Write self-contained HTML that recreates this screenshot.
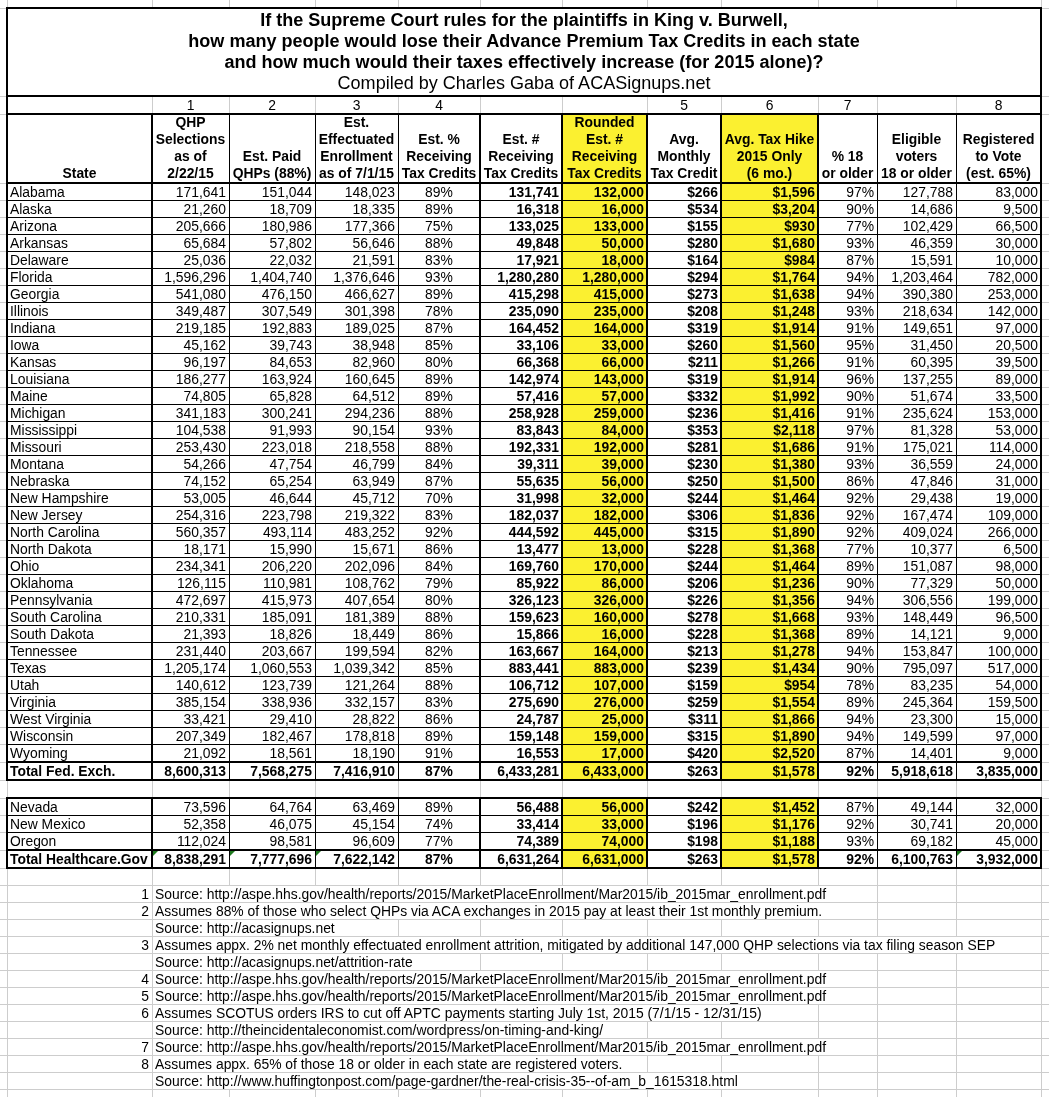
<!DOCTYPE html>
<html><head><meta charset="utf-8"><title>King v. Burwell APTC impact by state</title><style>
*{margin:0;padding:0}
html,body{width:1049px;height:1097px;overflow:hidden;background:#fff}
body{position:relative;font-family:"Liberation Sans",Arial,sans-serif;font-size:13.89px;color:#000}
i{position:absolute;display:block}
.t{position:absolute;white-space:nowrap;line-height:16px}
.b{font-weight:bold}
.tl{position:absolute;left:0;top:0;width:1049px;height:1097px;will-change:transform}
.ti{font-size:18.05px}
.gt{position:absolute;width:0;height:0;border-top:5px solid #1f7a1f;border-right:5px solid transparent}
</style></head>
<body>
<i style="left:7px;top:0px;width:1px;height:1097px;background:#cdcdcd"></i><i style="left:152px;top:0px;width:1px;height:1097px;background:#cdcdcd"></i><i style="left:229px;top:0px;width:1px;height:1097px;background:#cdcdcd"></i><i style="left:315px;top:0px;width:1px;height:1097px;background:#cdcdcd"></i><i style="left:398px;top:0px;width:1px;height:1097px;background:#cdcdcd"></i><i style="left:480px;top:0px;width:1px;height:1097px;background:#cdcdcd"></i><i style="left:562px;top:0px;width:1px;height:1097px;background:#cdcdcd"></i><i style="left:647px;top:0px;width:1px;height:1097px;background:#cdcdcd"></i><i style="left:721px;top:0px;width:1px;height:1097px;background:#cdcdcd"></i><i style="left:818px;top:0px;width:1px;height:1097px;background:#cdcdcd"></i><i style="left:877px;top:0px;width:1px;height:1097px;background:#cdcdcd"></i><i style="left:956px;top:0px;width:1px;height:1097px;background:#cdcdcd"></i><i style="left:1041px;top:0px;width:1px;height:1097px;background:#cdcdcd"></i><i style="left:0px;top:8px;width:1049px;height:1px;background:#cdcdcd"></i><i style="left:0px;top:96px;width:1049px;height:1px;background:#cdcdcd"></i><i style="left:0px;top:114px;width:1049px;height:1px;background:#cdcdcd"></i><i style="left:0px;top:183px;width:1049px;height:1px;background:#cdcdcd"></i><i style="left:0px;top:200px;width:1049px;height:1px;background:#cdcdcd"></i><i style="left:0px;top:217px;width:1049px;height:1px;background:#cdcdcd"></i><i style="left:0px;top:234px;width:1049px;height:1px;background:#cdcdcd"></i><i style="left:0px;top:251px;width:1049px;height:1px;background:#cdcdcd"></i><i style="left:0px;top:268px;width:1049px;height:1px;background:#cdcdcd"></i><i style="left:0px;top:285px;width:1049px;height:1px;background:#cdcdcd"></i><i style="left:0px;top:302px;width:1049px;height:1px;background:#cdcdcd"></i><i style="left:0px;top:319px;width:1049px;height:1px;background:#cdcdcd"></i><i style="left:0px;top:336px;width:1049px;height:1px;background:#cdcdcd"></i><i style="left:0px;top:353px;width:1049px;height:1px;background:#cdcdcd"></i><i style="left:0px;top:370px;width:1049px;height:1px;background:#cdcdcd"></i><i style="left:0px;top:387px;width:1049px;height:1px;background:#cdcdcd"></i><i style="left:0px;top:404px;width:1049px;height:1px;background:#cdcdcd"></i><i style="left:0px;top:421px;width:1049px;height:1px;background:#cdcdcd"></i><i style="left:0px;top:438px;width:1049px;height:1px;background:#cdcdcd"></i><i style="left:0px;top:455px;width:1049px;height:1px;background:#cdcdcd"></i><i style="left:0px;top:472px;width:1049px;height:1px;background:#cdcdcd"></i><i style="left:0px;top:489px;width:1049px;height:1px;background:#cdcdcd"></i><i style="left:0px;top:506px;width:1049px;height:1px;background:#cdcdcd"></i><i style="left:0px;top:523px;width:1049px;height:1px;background:#cdcdcd"></i><i style="left:0px;top:540px;width:1049px;height:1px;background:#cdcdcd"></i><i style="left:0px;top:557px;width:1049px;height:1px;background:#cdcdcd"></i><i style="left:0px;top:574px;width:1049px;height:1px;background:#cdcdcd"></i><i style="left:0px;top:591px;width:1049px;height:1px;background:#cdcdcd"></i><i style="left:0px;top:608px;width:1049px;height:1px;background:#cdcdcd"></i><i style="left:0px;top:625px;width:1049px;height:1px;background:#cdcdcd"></i><i style="left:0px;top:642px;width:1049px;height:1px;background:#cdcdcd"></i><i style="left:0px;top:659px;width:1049px;height:1px;background:#cdcdcd"></i><i style="left:0px;top:676px;width:1049px;height:1px;background:#cdcdcd"></i><i style="left:0px;top:693px;width:1049px;height:1px;background:#cdcdcd"></i><i style="left:0px;top:710px;width:1049px;height:1px;background:#cdcdcd"></i><i style="left:0px;top:727px;width:1049px;height:1px;background:#cdcdcd"></i><i style="left:0px;top:744px;width:1049px;height:1px;background:#cdcdcd"></i><i style="left:0px;top:762px;width:1049px;height:1px;background:#cdcdcd"></i><i style="left:0px;top:780px;width:1049px;height:1px;background:#cdcdcd"></i><i style="left:0px;top:798px;width:1049px;height:1px;background:#cdcdcd"></i><i style="left:0px;top:815px;width:1049px;height:1px;background:#cdcdcd"></i><i style="left:0px;top:832px;width:1049px;height:1px;background:#cdcdcd"></i><i style="left:0px;top:850px;width:1049px;height:1px;background:#cdcdcd"></i><i style="left:0px;top:868px;width:1049px;height:1px;background:#cdcdcd"></i><i style="left:0px;top:885px;width:1049px;height:1px;background:#cdcdcd"></i><i style="left:0px;top:902px;width:1049px;height:1px;background:#cdcdcd"></i><i style="left:0px;top:919px;width:1049px;height:1px;background:#cdcdcd"></i><i style="left:0px;top:936px;width:1049px;height:1px;background:#cdcdcd"></i><i style="left:0px;top:953px;width:1049px;height:1px;background:#cdcdcd"></i><i style="left:0px;top:970px;width:1049px;height:1px;background:#cdcdcd"></i><i style="left:0px;top:987px;width:1049px;height:1px;background:#cdcdcd"></i><i style="left:0px;top:1004px;width:1049px;height:1px;background:#cdcdcd"></i><i style="left:0px;top:1021px;width:1049px;height:1px;background:#cdcdcd"></i><i style="left:0px;top:1038px;width:1049px;height:1px;background:#cdcdcd"></i><i style="left:0px;top:1055px;width:1049px;height:1px;background:#cdcdcd"></i><i style="left:0px;top:1072px;width:1049px;height:1px;background:#cdcdcd"></i><i style="left:0px;top:1089px;width:1049px;height:1px;background:#cdcdcd"></i><i style="left:0px;top:1106px;width:1049px;height:1px;background:#cdcdcd"></i><i style="left:8px;top:9px;width:1032px;height:86px;background:#fff"></i><i style="left:229px;top:886px;width:1px;height:16px;background:#fff"></i><i style="left:315px;top:886px;width:1px;height:16px;background:#fff"></i><i style="left:398px;top:886px;width:1px;height:16px;background:#fff"></i><i style="left:480px;top:886px;width:1px;height:16px;background:#fff"></i><i style="left:562px;top:886px;width:1px;height:16px;background:#fff"></i><i style="left:647px;top:886px;width:1px;height:16px;background:#fff"></i><i style="left:721px;top:886px;width:1px;height:16px;background:#fff"></i><i style="left:818px;top:886px;width:1px;height:16px;background:#fff"></i><i style="left:229px;top:903px;width:1px;height:16px;background:#fff"></i><i style="left:315px;top:903px;width:1px;height:16px;background:#fff"></i><i style="left:398px;top:903px;width:1px;height:16px;background:#fff"></i><i style="left:480px;top:903px;width:1px;height:16px;background:#fff"></i><i style="left:562px;top:903px;width:1px;height:16px;background:#fff"></i><i style="left:647px;top:903px;width:1px;height:16px;background:#fff"></i><i style="left:721px;top:903px;width:1px;height:16px;background:#fff"></i><i style="left:818px;top:903px;width:1px;height:16px;background:#fff"></i><i style="left:229px;top:920px;width:1px;height:16px;background:#fff"></i><i style="left:315px;top:920px;width:1px;height:16px;background:#fff"></i><i style="left:229px;top:937px;width:1px;height:16px;background:#fff"></i><i style="left:315px;top:937px;width:1px;height:16px;background:#fff"></i><i style="left:398px;top:937px;width:1px;height:16px;background:#fff"></i><i style="left:480px;top:937px;width:1px;height:16px;background:#fff"></i><i style="left:562px;top:937px;width:1px;height:16px;background:#fff"></i><i style="left:647px;top:937px;width:1px;height:16px;background:#fff"></i><i style="left:721px;top:937px;width:1px;height:16px;background:#fff"></i><i style="left:818px;top:937px;width:1px;height:16px;background:#fff"></i><i style="left:877px;top:937px;width:1px;height:16px;background:#fff"></i><i style="left:956px;top:937px;width:1px;height:16px;background:#fff"></i><i style="left:229px;top:954px;width:1px;height:16px;background:#fff"></i><i style="left:315px;top:954px;width:1px;height:16px;background:#fff"></i><i style="left:398px;top:954px;width:1px;height:16px;background:#fff"></i><i style="left:229px;top:971px;width:1px;height:16px;background:#fff"></i><i style="left:315px;top:971px;width:1px;height:16px;background:#fff"></i><i style="left:398px;top:971px;width:1px;height:16px;background:#fff"></i><i style="left:480px;top:971px;width:1px;height:16px;background:#fff"></i><i style="left:562px;top:971px;width:1px;height:16px;background:#fff"></i><i style="left:647px;top:971px;width:1px;height:16px;background:#fff"></i><i style="left:721px;top:971px;width:1px;height:16px;background:#fff"></i><i style="left:818px;top:971px;width:1px;height:16px;background:#fff"></i><i style="left:229px;top:988px;width:1px;height:16px;background:#fff"></i><i style="left:315px;top:988px;width:1px;height:16px;background:#fff"></i><i style="left:398px;top:988px;width:1px;height:16px;background:#fff"></i><i style="left:480px;top:988px;width:1px;height:16px;background:#fff"></i><i style="left:562px;top:988px;width:1px;height:16px;background:#fff"></i><i style="left:647px;top:988px;width:1px;height:16px;background:#fff"></i><i style="left:721px;top:988px;width:1px;height:16px;background:#fff"></i><i style="left:818px;top:988px;width:1px;height:16px;background:#fff"></i><i style="left:229px;top:1005px;width:1px;height:16px;background:#fff"></i><i style="left:315px;top:1005px;width:1px;height:16px;background:#fff"></i><i style="left:398px;top:1005px;width:1px;height:16px;background:#fff"></i><i style="left:480px;top:1005px;width:1px;height:16px;background:#fff"></i><i style="left:562px;top:1005px;width:1px;height:16px;background:#fff"></i><i style="left:647px;top:1005px;width:1px;height:16px;background:#fff"></i><i style="left:721px;top:1005px;width:1px;height:16px;background:#fff"></i><i style="left:229px;top:1022px;width:1px;height:16px;background:#fff"></i><i style="left:315px;top:1022px;width:1px;height:16px;background:#fff"></i><i style="left:398px;top:1022px;width:1px;height:16px;background:#fff"></i><i style="left:480px;top:1022px;width:1px;height:16px;background:#fff"></i><i style="left:562px;top:1022px;width:1px;height:16px;background:#fff"></i><i style="left:229px;top:1039px;width:1px;height:16px;background:#fff"></i><i style="left:315px;top:1039px;width:1px;height:16px;background:#fff"></i><i style="left:398px;top:1039px;width:1px;height:16px;background:#fff"></i><i style="left:480px;top:1039px;width:1px;height:16px;background:#fff"></i><i style="left:562px;top:1039px;width:1px;height:16px;background:#fff"></i><i style="left:647px;top:1039px;width:1px;height:16px;background:#fff"></i><i style="left:721px;top:1039px;width:1px;height:16px;background:#fff"></i><i style="left:818px;top:1039px;width:1px;height:16px;background:#fff"></i><i style="left:229px;top:1056px;width:1px;height:16px;background:#fff"></i><i style="left:315px;top:1056px;width:1px;height:16px;background:#fff"></i><i style="left:398px;top:1056px;width:1px;height:16px;background:#fff"></i><i style="left:480px;top:1056px;width:1px;height:16px;background:#fff"></i><i style="left:562px;top:1056px;width:1px;height:16px;background:#fff"></i><i style="left:229px;top:1073px;width:1px;height:16px;background:#fff"></i><i style="left:315px;top:1073px;width:1px;height:16px;background:#fff"></i><i style="left:398px;top:1073px;width:1px;height:16px;background:#fff"></i><i style="left:480px;top:1073px;width:1px;height:16px;background:#fff"></i><i style="left:562px;top:1073px;width:1px;height:16px;background:#fff"></i><i style="left:647px;top:1073px;width:1px;height:16px;background:#fff"></i><i style="left:721px;top:1073px;width:1px;height:16px;background:#fff"></i><i style="left:563px;top:115px;width:83px;height:67px;background:#fbf030"></i><i style="left:722px;top:115px;width:95px;height:67px;background:#fbf030"></i><i style="left:563px;top:184px;width:83px;height:577px;background:#fbf030"></i><i style="left:722px;top:184px;width:95px;height:577px;background:#fbf030"></i><i style="left:563px;top:763px;width:83px;height:16px;background:#fbf030"></i><i style="left:722px;top:763px;width:95px;height:16px;background:#fbf030"></i><i style="left:563px;top:799px;width:83px;height:50px;background:#fbf030"></i><i style="left:722px;top:799px;width:95px;height:50px;background:#fbf030"></i><i style="left:563px;top:851px;width:83px;height:16px;background:#fbf030"></i><i style="left:722px;top:851px;width:95px;height:16px;background:#fbf030"></i><i style="left:6px;top:7px;width:1036px;height:2px;background:#000"></i><i style="left:6px;top:95px;width:1036px;height:2px;background:#000"></i><i style="left:6px;top:113px;width:1036px;height:2px;background:#000"></i><i style="left:6px;top:182px;width:1036px;height:2px;background:#000"></i><i style="left:6px;top:200px;width:1036px;height:1px;background:#000"></i><i style="left:6px;top:217px;width:1036px;height:1px;background:#000"></i><i style="left:6px;top:234px;width:1036px;height:1px;background:#000"></i><i style="left:6px;top:251px;width:1036px;height:1px;background:#000"></i><i style="left:6px;top:268px;width:1036px;height:1px;background:#000"></i><i style="left:6px;top:285px;width:1036px;height:1px;background:#000"></i><i style="left:6px;top:302px;width:1036px;height:1px;background:#000"></i><i style="left:6px;top:319px;width:1036px;height:1px;background:#000"></i><i style="left:6px;top:336px;width:1036px;height:1px;background:#000"></i><i style="left:6px;top:353px;width:1036px;height:1px;background:#000"></i><i style="left:6px;top:370px;width:1036px;height:1px;background:#000"></i><i style="left:6px;top:387px;width:1036px;height:1px;background:#000"></i><i style="left:6px;top:404px;width:1036px;height:1px;background:#000"></i><i style="left:6px;top:421px;width:1036px;height:1px;background:#000"></i><i style="left:6px;top:438px;width:1036px;height:1px;background:#000"></i><i style="left:6px;top:455px;width:1036px;height:1px;background:#000"></i><i style="left:6px;top:472px;width:1036px;height:1px;background:#000"></i><i style="left:6px;top:489px;width:1036px;height:1px;background:#000"></i><i style="left:6px;top:506px;width:1036px;height:1px;background:#000"></i><i style="left:6px;top:523px;width:1036px;height:1px;background:#000"></i><i style="left:6px;top:540px;width:1036px;height:1px;background:#000"></i><i style="left:6px;top:557px;width:1036px;height:1px;background:#000"></i><i style="left:6px;top:574px;width:1036px;height:1px;background:#000"></i><i style="left:6px;top:591px;width:1036px;height:1px;background:#000"></i><i style="left:6px;top:608px;width:1036px;height:1px;background:#000"></i><i style="left:6px;top:625px;width:1036px;height:1px;background:#000"></i><i style="left:6px;top:642px;width:1036px;height:1px;background:#000"></i><i style="left:6px;top:659px;width:1036px;height:1px;background:#000"></i><i style="left:6px;top:676px;width:1036px;height:1px;background:#000"></i><i style="left:6px;top:693px;width:1036px;height:1px;background:#000"></i><i style="left:6px;top:710px;width:1036px;height:1px;background:#000"></i><i style="left:6px;top:727px;width:1036px;height:1px;background:#000"></i><i style="left:6px;top:744px;width:1036px;height:1px;background:#000"></i><i style="left:6px;top:761px;width:1036px;height:2px;background:#000"></i><i style="left:6px;top:779px;width:1036px;height:2px;background:#000"></i><i style="left:6px;top:797px;width:1036px;height:2px;background:#000"></i><i style="left:6px;top:815px;width:1036px;height:1px;background:#000"></i><i style="left:6px;top:832px;width:1036px;height:1px;background:#000"></i><i style="left:6px;top:849px;width:1036px;height:2px;background:#000"></i><i style="left:6px;top:867px;width:1036px;height:2px;background:#000"></i><i style="left:6px;top:7px;width:2px;height:774px;background:#000"></i><i style="left:1040px;top:7px;width:2px;height:774px;background:#000"></i><i style="left:6px;top:797px;width:2px;height:72px;background:#000"></i><i style="left:1040px;top:797px;width:2px;height:72px;background:#000"></i><i style="left:151px;top:113px;width:2px;height:668px;background:#000"></i><i style="left:151px;top:797px;width:2px;height:72px;background:#000"></i><i style="left:229px;top:113px;width:1px;height:668px;background:#000"></i><i style="left:229px;top:797px;width:1px;height:72px;background:#000"></i><i style="left:315px;top:113px;width:1px;height:668px;background:#000"></i><i style="left:315px;top:797px;width:1px;height:72px;background:#000"></i><i style="left:398px;top:113px;width:1px;height:668px;background:#000"></i><i style="left:398px;top:797px;width:1px;height:72px;background:#000"></i><i style="left:479px;top:113px;width:2px;height:668px;background:#000"></i><i style="left:479px;top:797px;width:2px;height:72px;background:#000"></i><i style="left:561px;top:113px;width:2px;height:668px;background:#000"></i><i style="left:561px;top:797px;width:2px;height:72px;background:#000"></i><i style="left:646px;top:113px;width:2px;height:668px;background:#000"></i><i style="left:646px;top:797px;width:2px;height:72px;background:#000"></i><i style="left:720px;top:113px;width:2px;height:668px;background:#000"></i><i style="left:720px;top:797px;width:2px;height:72px;background:#000"></i><i style="left:817px;top:113px;width:2px;height:668px;background:#000"></i><i style="left:817px;top:797px;width:2px;height:72px;background:#000"></i><i style="left:877px;top:113px;width:1px;height:668px;background:#000"></i><i style="left:877px;top:797px;width:1px;height:72px;background:#000"></i><i style="left:956px;top:113px;width:1px;height:668px;background:#000"></i><i style="left:956px;top:797px;width:1px;height:72px;background:#000"></i>
<b class="gt" style="left:153px;top:851px"></b><b class="gt" style="left:230px;top:851px"></b><b class="gt" style="left:316px;top:851px"></b><b class="gt" style="left:957px;top:851px"></b>
<div class="tl"><div class="t b ti" style="left:7px;top:12px;width:1034px;text-align:center;">If the Supreme Court rules for the plaintiffs in King v. Burwell,</div><div class="t b ti" style="left:7px;top:33px;width:1034px;text-align:center;">how many people would lose their Advance Premium Tax Credits in each state</div><div class="t b ti" style="left:7px;top:54px;width:1034px;text-align:center;">and how much would their taxes effectively increase (for 2015 alone)?</div><div class="t ti" style="left:7px;top:75px;width:1034px;text-align:center;">Compiled by Charles Gaba of ACASignups.net</div><div class="t" style="left:152px;top:97px;width:77px;text-align:center;">1</div><div class="t" style="left:229px;top:97px;width:86px;text-align:center;">2</div><div class="t" style="left:315px;top:97px;width:83px;text-align:center;">3</div><div class="t" style="left:398px;top:97px;width:82px;text-align:center;">4</div><div class="t" style="left:647px;top:97px;width:74px;text-align:center;">5</div><div class="t" style="left:721px;top:97px;width:97px;text-align:center;">6</div><div class="t" style="left:818px;top:97px;width:59px;text-align:center;">7</div><div class="t" style="left:956px;top:97px;width:85px;text-align:center;">8</div><div class="t b" style="left:7px;top:165px;width:145px;text-align:center;">State</div><div class="t b" style="left:152px;top:114px;width:77px;text-align:center;">QHP</div><div class="t b" style="left:152px;top:131px;width:77px;text-align:center;">Selections</div><div class="t b" style="left:152px;top:148px;width:77px;text-align:center;">as of</div><div class="t b" style="left:152px;top:165px;width:77px;text-align:center;">2/22/15</div><div class="t b" style="left:229px;top:148px;width:86px;text-align:center;">Est. Paid</div><div class="t b" style="left:229px;top:165px;width:86px;text-align:center;">QHPs (88%)</div><div class="t b" style="left:315px;top:114px;width:83px;text-align:center;">Est.</div><div class="t b" style="left:315px;top:131px;width:83px;text-align:center;">Effectuated</div><div class="t b" style="left:315px;top:148px;width:83px;text-align:center;">Enrollment</div><div class="t b" style="left:315px;top:165px;width:83px;text-align:center;">as of 7/1/15</div><div class="t b" style="left:398px;top:131px;width:82px;text-align:center;">Est. %</div><div class="t b" style="left:398px;top:148px;width:82px;text-align:center;">Receiving</div><div class="t b" style="left:398px;top:165px;width:82px;text-align:center;">Tax Credits</div><div class="t b" style="left:480px;top:131px;width:82px;text-align:center;">Est. #</div><div class="t b" style="left:480px;top:148px;width:82px;text-align:center;">Receiving</div><div class="t b" style="left:480px;top:165px;width:82px;text-align:center;">Tax Credits</div><div class="t b" style="left:562px;top:114px;width:85px;text-align:center;">Rounded</div><div class="t b" style="left:562px;top:131px;width:85px;text-align:center;">Est. #</div><div class="t b" style="left:562px;top:148px;width:85px;text-align:center;">Receiving</div><div class="t b" style="left:562px;top:165px;width:85px;text-align:center;">Tax Credits</div><div class="t b" style="left:647px;top:131px;width:74px;text-align:center;">Avg.</div><div class="t b" style="left:647px;top:148px;width:74px;text-align:center;">Monthly</div><div class="t b" style="left:647px;top:165px;width:74px;text-align:center;">Tax Credit</div><div class="t b" style="left:721px;top:131px;width:97px;text-align:center;">Avg. Tax Hike</div><div class="t b" style="left:721px;top:148px;width:97px;text-align:center;">2015 Only</div><div class="t b" style="left:721px;top:165px;width:97px;text-align:center;">(6 mo.)</div><div class="t b" style="left:818px;top:148px;width:59px;text-align:center;">% 18</div><div class="t b" style="left:818px;top:165px;width:59px;text-align:center;">or older</div><div class="t b" style="left:877px;top:131px;width:79px;text-align:center;">Eligible</div><div class="t b" style="left:877px;top:148px;width:79px;text-align:center;">voters</div><div class="t b" style="left:877px;top:165px;width:79px;text-align:center;">18 or older</div><div class="t b" style="left:956px;top:131px;width:85px;text-align:center;">Registered</div><div class="t b" style="left:956px;top:148px;width:85px;text-align:center;">to Vote</div><div class="t b" style="left:956px;top:165px;width:85px;text-align:center;">(est. 65%)</div><div class="t" style="left:10px;top:184px;">Alabama</div><div class="t" style="left:152px;top:184px;width:74px;text-align:right;">171,641</div><div class="t" style="left:229px;top:184px;width:83px;text-align:right;">151,044</div><div class="t" style="left:315px;top:184px;width:80px;text-align:right;">148,023</div><div class="t" style="left:398px;top:184px;width:82px;text-align:center;">89%</div><div class="t b" style="left:480px;top:184px;width:79px;text-align:right;">131,741</div><div class="t b" style="left:562px;top:184px;width:82px;text-align:right;">132,000</div><div class="t b" style="left:647px;top:184px;width:71px;text-align:right;">$266</div><div class="t b" style="left:721px;top:184px;width:94px;text-align:right;">$1,596</div><div class="t" style="left:818px;top:184px;width:56px;text-align:right;">97%</div><div class="t" style="left:877px;top:184px;width:76px;text-align:right;">127,788</div><div class="t" style="left:956px;top:184px;width:82px;text-align:right;">83,000</div><div class="t" style="left:10px;top:201px;">Alaska</div><div class="t" style="left:152px;top:201px;width:74px;text-align:right;">21,260</div><div class="t" style="left:229px;top:201px;width:83px;text-align:right;">18,709</div><div class="t" style="left:315px;top:201px;width:80px;text-align:right;">18,335</div><div class="t" style="left:398px;top:201px;width:82px;text-align:center;">89%</div><div class="t b" style="left:480px;top:201px;width:79px;text-align:right;">16,318</div><div class="t b" style="left:562px;top:201px;width:82px;text-align:right;">16,000</div><div class="t b" style="left:647px;top:201px;width:71px;text-align:right;">$534</div><div class="t b" style="left:721px;top:201px;width:94px;text-align:right;">$3,204</div><div class="t" style="left:818px;top:201px;width:56px;text-align:right;">90%</div><div class="t" style="left:877px;top:201px;width:76px;text-align:right;">14,686</div><div class="t" style="left:956px;top:201px;width:82px;text-align:right;">9,500</div><div class="t" style="left:10px;top:218px;">Arizona</div><div class="t" style="left:152px;top:218px;width:74px;text-align:right;">205,666</div><div class="t" style="left:229px;top:218px;width:83px;text-align:right;">180,986</div><div class="t" style="left:315px;top:218px;width:80px;text-align:right;">177,366</div><div class="t" style="left:398px;top:218px;width:82px;text-align:center;">75%</div><div class="t b" style="left:480px;top:218px;width:79px;text-align:right;">133,025</div><div class="t b" style="left:562px;top:218px;width:82px;text-align:right;">133,000</div><div class="t b" style="left:647px;top:218px;width:71px;text-align:right;">$155</div><div class="t b" style="left:721px;top:218px;width:94px;text-align:right;">$930</div><div class="t" style="left:818px;top:218px;width:56px;text-align:right;">77%</div><div class="t" style="left:877px;top:218px;width:76px;text-align:right;">102,429</div><div class="t" style="left:956px;top:218px;width:82px;text-align:right;">66,500</div><div class="t" style="left:10px;top:235px;">Arkansas</div><div class="t" style="left:152px;top:235px;width:74px;text-align:right;">65,684</div><div class="t" style="left:229px;top:235px;width:83px;text-align:right;">57,802</div><div class="t" style="left:315px;top:235px;width:80px;text-align:right;">56,646</div><div class="t" style="left:398px;top:235px;width:82px;text-align:center;">88%</div><div class="t b" style="left:480px;top:235px;width:79px;text-align:right;">49,848</div><div class="t b" style="left:562px;top:235px;width:82px;text-align:right;">50,000</div><div class="t b" style="left:647px;top:235px;width:71px;text-align:right;">$280</div><div class="t b" style="left:721px;top:235px;width:94px;text-align:right;">$1,680</div><div class="t" style="left:818px;top:235px;width:56px;text-align:right;">93%</div><div class="t" style="left:877px;top:235px;width:76px;text-align:right;">46,359</div><div class="t" style="left:956px;top:235px;width:82px;text-align:right;">30,000</div><div class="t" style="left:10px;top:252px;">Delaware</div><div class="t" style="left:152px;top:252px;width:74px;text-align:right;">25,036</div><div class="t" style="left:229px;top:252px;width:83px;text-align:right;">22,032</div><div class="t" style="left:315px;top:252px;width:80px;text-align:right;">21,591</div><div class="t" style="left:398px;top:252px;width:82px;text-align:center;">83%</div><div class="t b" style="left:480px;top:252px;width:79px;text-align:right;">17,921</div><div class="t b" style="left:562px;top:252px;width:82px;text-align:right;">18,000</div><div class="t b" style="left:647px;top:252px;width:71px;text-align:right;">$164</div><div class="t b" style="left:721px;top:252px;width:94px;text-align:right;">$984</div><div class="t" style="left:818px;top:252px;width:56px;text-align:right;">87%</div><div class="t" style="left:877px;top:252px;width:76px;text-align:right;">15,591</div><div class="t" style="left:956px;top:252px;width:82px;text-align:right;">10,000</div><div class="t" style="left:10px;top:269px;">Florida</div><div class="t" style="left:152px;top:269px;width:74px;text-align:right;">1,596,296</div><div class="t" style="left:229px;top:269px;width:83px;text-align:right;">1,404,740</div><div class="t" style="left:315px;top:269px;width:80px;text-align:right;">1,376,646</div><div class="t" style="left:398px;top:269px;width:82px;text-align:center;">93%</div><div class="t b" style="left:480px;top:269px;width:79px;text-align:right;">1,280,280</div><div class="t b" style="left:562px;top:269px;width:82px;text-align:right;">1,280,000</div><div class="t b" style="left:647px;top:269px;width:71px;text-align:right;">$294</div><div class="t b" style="left:721px;top:269px;width:94px;text-align:right;">$1,764</div><div class="t" style="left:818px;top:269px;width:56px;text-align:right;">94%</div><div class="t" style="left:877px;top:269px;width:76px;text-align:right;">1,203,464</div><div class="t" style="left:956px;top:269px;width:82px;text-align:right;">782,000</div><div class="t" style="left:10px;top:286px;">Georgia</div><div class="t" style="left:152px;top:286px;width:74px;text-align:right;">541,080</div><div class="t" style="left:229px;top:286px;width:83px;text-align:right;">476,150</div><div class="t" style="left:315px;top:286px;width:80px;text-align:right;">466,627</div><div class="t" style="left:398px;top:286px;width:82px;text-align:center;">89%</div><div class="t b" style="left:480px;top:286px;width:79px;text-align:right;">415,298</div><div class="t b" style="left:562px;top:286px;width:82px;text-align:right;">415,000</div><div class="t b" style="left:647px;top:286px;width:71px;text-align:right;">$273</div><div class="t b" style="left:721px;top:286px;width:94px;text-align:right;">$1,638</div><div class="t" style="left:818px;top:286px;width:56px;text-align:right;">94%</div><div class="t" style="left:877px;top:286px;width:76px;text-align:right;">390,380</div><div class="t" style="left:956px;top:286px;width:82px;text-align:right;">253,000</div><div class="t" style="left:10px;top:303px;">Illinois</div><div class="t" style="left:152px;top:303px;width:74px;text-align:right;">349,487</div><div class="t" style="left:229px;top:303px;width:83px;text-align:right;">307,549</div><div class="t" style="left:315px;top:303px;width:80px;text-align:right;">301,398</div><div class="t" style="left:398px;top:303px;width:82px;text-align:center;">78%</div><div class="t b" style="left:480px;top:303px;width:79px;text-align:right;">235,090</div><div class="t b" style="left:562px;top:303px;width:82px;text-align:right;">235,000</div><div class="t b" style="left:647px;top:303px;width:71px;text-align:right;">$208</div><div class="t b" style="left:721px;top:303px;width:94px;text-align:right;">$1,248</div><div class="t" style="left:818px;top:303px;width:56px;text-align:right;">93%</div><div class="t" style="left:877px;top:303px;width:76px;text-align:right;">218,634</div><div class="t" style="left:956px;top:303px;width:82px;text-align:right;">142,000</div><div class="t" style="left:10px;top:320px;">Indiana</div><div class="t" style="left:152px;top:320px;width:74px;text-align:right;">219,185</div><div class="t" style="left:229px;top:320px;width:83px;text-align:right;">192,883</div><div class="t" style="left:315px;top:320px;width:80px;text-align:right;">189,025</div><div class="t" style="left:398px;top:320px;width:82px;text-align:center;">87%</div><div class="t b" style="left:480px;top:320px;width:79px;text-align:right;">164,452</div><div class="t b" style="left:562px;top:320px;width:82px;text-align:right;">164,000</div><div class="t b" style="left:647px;top:320px;width:71px;text-align:right;">$319</div><div class="t b" style="left:721px;top:320px;width:94px;text-align:right;">$1,914</div><div class="t" style="left:818px;top:320px;width:56px;text-align:right;">91%</div><div class="t" style="left:877px;top:320px;width:76px;text-align:right;">149,651</div><div class="t" style="left:956px;top:320px;width:82px;text-align:right;">97,000</div><div class="t" style="left:10px;top:337px;">Iowa</div><div class="t" style="left:152px;top:337px;width:74px;text-align:right;">45,162</div><div class="t" style="left:229px;top:337px;width:83px;text-align:right;">39,743</div><div class="t" style="left:315px;top:337px;width:80px;text-align:right;">38,948</div><div class="t" style="left:398px;top:337px;width:82px;text-align:center;">85%</div><div class="t b" style="left:480px;top:337px;width:79px;text-align:right;">33,106</div><div class="t b" style="left:562px;top:337px;width:82px;text-align:right;">33,000</div><div class="t b" style="left:647px;top:337px;width:71px;text-align:right;">$260</div><div class="t b" style="left:721px;top:337px;width:94px;text-align:right;">$1,560</div><div class="t" style="left:818px;top:337px;width:56px;text-align:right;">95%</div><div class="t" style="left:877px;top:337px;width:76px;text-align:right;">31,450</div><div class="t" style="left:956px;top:337px;width:82px;text-align:right;">20,500</div><div class="t" style="left:10px;top:354px;">Kansas</div><div class="t" style="left:152px;top:354px;width:74px;text-align:right;">96,197</div><div class="t" style="left:229px;top:354px;width:83px;text-align:right;">84,653</div><div class="t" style="left:315px;top:354px;width:80px;text-align:right;">82,960</div><div class="t" style="left:398px;top:354px;width:82px;text-align:center;">80%</div><div class="t b" style="left:480px;top:354px;width:79px;text-align:right;">66,368</div><div class="t b" style="left:562px;top:354px;width:82px;text-align:right;">66,000</div><div class="t b" style="left:647px;top:354px;width:71px;text-align:right;">$211</div><div class="t b" style="left:721px;top:354px;width:94px;text-align:right;">$1,266</div><div class="t" style="left:818px;top:354px;width:56px;text-align:right;">91%</div><div class="t" style="left:877px;top:354px;width:76px;text-align:right;">60,395</div><div class="t" style="left:956px;top:354px;width:82px;text-align:right;">39,500</div><div class="t" style="left:10px;top:371px;">Louisiana</div><div class="t" style="left:152px;top:371px;width:74px;text-align:right;">186,277</div><div class="t" style="left:229px;top:371px;width:83px;text-align:right;">163,924</div><div class="t" style="left:315px;top:371px;width:80px;text-align:right;">160,645</div><div class="t" style="left:398px;top:371px;width:82px;text-align:center;">89%</div><div class="t b" style="left:480px;top:371px;width:79px;text-align:right;">142,974</div><div class="t b" style="left:562px;top:371px;width:82px;text-align:right;">143,000</div><div class="t b" style="left:647px;top:371px;width:71px;text-align:right;">$319</div><div class="t b" style="left:721px;top:371px;width:94px;text-align:right;">$1,914</div><div class="t" style="left:818px;top:371px;width:56px;text-align:right;">96%</div><div class="t" style="left:877px;top:371px;width:76px;text-align:right;">137,255</div><div class="t" style="left:956px;top:371px;width:82px;text-align:right;">89,000</div><div class="t" style="left:10px;top:388px;">Maine</div><div class="t" style="left:152px;top:388px;width:74px;text-align:right;">74,805</div><div class="t" style="left:229px;top:388px;width:83px;text-align:right;">65,828</div><div class="t" style="left:315px;top:388px;width:80px;text-align:right;">64,512</div><div class="t" style="left:398px;top:388px;width:82px;text-align:center;">89%</div><div class="t b" style="left:480px;top:388px;width:79px;text-align:right;">57,416</div><div class="t b" style="left:562px;top:388px;width:82px;text-align:right;">57,000</div><div class="t b" style="left:647px;top:388px;width:71px;text-align:right;">$332</div><div class="t b" style="left:721px;top:388px;width:94px;text-align:right;">$1,992</div><div class="t" style="left:818px;top:388px;width:56px;text-align:right;">90%</div><div class="t" style="left:877px;top:388px;width:76px;text-align:right;">51,674</div><div class="t" style="left:956px;top:388px;width:82px;text-align:right;">33,500</div><div class="t" style="left:10px;top:405px;">Michigan</div><div class="t" style="left:152px;top:405px;width:74px;text-align:right;">341,183</div><div class="t" style="left:229px;top:405px;width:83px;text-align:right;">300,241</div><div class="t" style="left:315px;top:405px;width:80px;text-align:right;">294,236</div><div class="t" style="left:398px;top:405px;width:82px;text-align:center;">88%</div><div class="t b" style="left:480px;top:405px;width:79px;text-align:right;">258,928</div><div class="t b" style="left:562px;top:405px;width:82px;text-align:right;">259,000</div><div class="t b" style="left:647px;top:405px;width:71px;text-align:right;">$236</div><div class="t b" style="left:721px;top:405px;width:94px;text-align:right;">$1,416</div><div class="t" style="left:818px;top:405px;width:56px;text-align:right;">91%</div><div class="t" style="left:877px;top:405px;width:76px;text-align:right;">235,624</div><div class="t" style="left:956px;top:405px;width:82px;text-align:right;">153,000</div><div class="t" style="left:10px;top:422px;">Mississippi</div><div class="t" style="left:152px;top:422px;width:74px;text-align:right;">104,538</div><div class="t" style="left:229px;top:422px;width:83px;text-align:right;">91,993</div><div class="t" style="left:315px;top:422px;width:80px;text-align:right;">90,154</div><div class="t" style="left:398px;top:422px;width:82px;text-align:center;">93%</div><div class="t b" style="left:480px;top:422px;width:79px;text-align:right;">83,843</div><div class="t b" style="left:562px;top:422px;width:82px;text-align:right;">84,000</div><div class="t b" style="left:647px;top:422px;width:71px;text-align:right;">$353</div><div class="t b" style="left:721px;top:422px;width:94px;text-align:right;">$2,118</div><div class="t" style="left:818px;top:422px;width:56px;text-align:right;">97%</div><div class="t" style="left:877px;top:422px;width:76px;text-align:right;">81,328</div><div class="t" style="left:956px;top:422px;width:82px;text-align:right;">53,000</div><div class="t" style="left:10px;top:439px;">Missouri</div><div class="t" style="left:152px;top:439px;width:74px;text-align:right;">253,430</div><div class="t" style="left:229px;top:439px;width:83px;text-align:right;">223,018</div><div class="t" style="left:315px;top:439px;width:80px;text-align:right;">218,558</div><div class="t" style="left:398px;top:439px;width:82px;text-align:center;">88%</div><div class="t b" style="left:480px;top:439px;width:79px;text-align:right;">192,331</div><div class="t b" style="left:562px;top:439px;width:82px;text-align:right;">192,000</div><div class="t b" style="left:647px;top:439px;width:71px;text-align:right;">$281</div><div class="t b" style="left:721px;top:439px;width:94px;text-align:right;">$1,686</div><div class="t" style="left:818px;top:439px;width:56px;text-align:right;">91%</div><div class="t" style="left:877px;top:439px;width:76px;text-align:right;">175,021</div><div class="t" style="left:956px;top:439px;width:82px;text-align:right;">114,000</div><div class="t" style="left:10px;top:456px;">Montana</div><div class="t" style="left:152px;top:456px;width:74px;text-align:right;">54,266</div><div class="t" style="left:229px;top:456px;width:83px;text-align:right;">47,754</div><div class="t" style="left:315px;top:456px;width:80px;text-align:right;">46,799</div><div class="t" style="left:398px;top:456px;width:82px;text-align:center;">84%</div><div class="t b" style="left:480px;top:456px;width:79px;text-align:right;">39,311</div><div class="t b" style="left:562px;top:456px;width:82px;text-align:right;">39,000</div><div class="t b" style="left:647px;top:456px;width:71px;text-align:right;">$230</div><div class="t b" style="left:721px;top:456px;width:94px;text-align:right;">$1,380</div><div class="t" style="left:818px;top:456px;width:56px;text-align:right;">93%</div><div class="t" style="left:877px;top:456px;width:76px;text-align:right;">36,559</div><div class="t" style="left:956px;top:456px;width:82px;text-align:right;">24,000</div><div class="t" style="left:10px;top:473px;">Nebraska</div><div class="t" style="left:152px;top:473px;width:74px;text-align:right;">74,152</div><div class="t" style="left:229px;top:473px;width:83px;text-align:right;">65,254</div><div class="t" style="left:315px;top:473px;width:80px;text-align:right;">63,949</div><div class="t" style="left:398px;top:473px;width:82px;text-align:center;">87%</div><div class="t b" style="left:480px;top:473px;width:79px;text-align:right;">55,635</div><div class="t b" style="left:562px;top:473px;width:82px;text-align:right;">56,000</div><div class="t b" style="left:647px;top:473px;width:71px;text-align:right;">$250</div><div class="t b" style="left:721px;top:473px;width:94px;text-align:right;">$1,500</div><div class="t" style="left:818px;top:473px;width:56px;text-align:right;">86%</div><div class="t" style="left:877px;top:473px;width:76px;text-align:right;">47,846</div><div class="t" style="left:956px;top:473px;width:82px;text-align:right;">31,000</div><div class="t" style="left:10px;top:490px;">New Hampshire</div><div class="t" style="left:152px;top:490px;width:74px;text-align:right;">53,005</div><div class="t" style="left:229px;top:490px;width:83px;text-align:right;">46,644</div><div class="t" style="left:315px;top:490px;width:80px;text-align:right;">45,712</div><div class="t" style="left:398px;top:490px;width:82px;text-align:center;">70%</div><div class="t b" style="left:480px;top:490px;width:79px;text-align:right;">31,998</div><div class="t b" style="left:562px;top:490px;width:82px;text-align:right;">32,000</div><div class="t b" style="left:647px;top:490px;width:71px;text-align:right;">$244</div><div class="t b" style="left:721px;top:490px;width:94px;text-align:right;">$1,464</div><div class="t" style="left:818px;top:490px;width:56px;text-align:right;">92%</div><div class="t" style="left:877px;top:490px;width:76px;text-align:right;">29,438</div><div class="t" style="left:956px;top:490px;width:82px;text-align:right;">19,000</div><div class="t" style="left:10px;top:507px;">New Jersey</div><div class="t" style="left:152px;top:507px;width:74px;text-align:right;">254,316</div><div class="t" style="left:229px;top:507px;width:83px;text-align:right;">223,798</div><div class="t" style="left:315px;top:507px;width:80px;text-align:right;">219,322</div><div class="t" style="left:398px;top:507px;width:82px;text-align:center;">83%</div><div class="t b" style="left:480px;top:507px;width:79px;text-align:right;">182,037</div><div class="t b" style="left:562px;top:507px;width:82px;text-align:right;">182,000</div><div class="t b" style="left:647px;top:507px;width:71px;text-align:right;">$306</div><div class="t b" style="left:721px;top:507px;width:94px;text-align:right;">$1,836</div><div class="t" style="left:818px;top:507px;width:56px;text-align:right;">92%</div><div class="t" style="left:877px;top:507px;width:76px;text-align:right;">167,474</div><div class="t" style="left:956px;top:507px;width:82px;text-align:right;">109,000</div><div class="t" style="left:10px;top:524px;">North Carolina</div><div class="t" style="left:152px;top:524px;width:74px;text-align:right;">560,357</div><div class="t" style="left:229px;top:524px;width:83px;text-align:right;">493,114</div><div class="t" style="left:315px;top:524px;width:80px;text-align:right;">483,252</div><div class="t" style="left:398px;top:524px;width:82px;text-align:center;">92%</div><div class="t b" style="left:480px;top:524px;width:79px;text-align:right;">444,592</div><div class="t b" style="left:562px;top:524px;width:82px;text-align:right;">445,000</div><div class="t b" style="left:647px;top:524px;width:71px;text-align:right;">$315</div><div class="t b" style="left:721px;top:524px;width:94px;text-align:right;">$1,890</div><div class="t" style="left:818px;top:524px;width:56px;text-align:right;">92%</div><div class="t" style="left:877px;top:524px;width:76px;text-align:right;">409,024</div><div class="t" style="left:956px;top:524px;width:82px;text-align:right;">266,000</div><div class="t" style="left:10px;top:541px;">North Dakota</div><div class="t" style="left:152px;top:541px;width:74px;text-align:right;">18,171</div><div class="t" style="left:229px;top:541px;width:83px;text-align:right;">15,990</div><div class="t" style="left:315px;top:541px;width:80px;text-align:right;">15,671</div><div class="t" style="left:398px;top:541px;width:82px;text-align:center;">86%</div><div class="t b" style="left:480px;top:541px;width:79px;text-align:right;">13,477</div><div class="t b" style="left:562px;top:541px;width:82px;text-align:right;">13,000</div><div class="t b" style="left:647px;top:541px;width:71px;text-align:right;">$228</div><div class="t b" style="left:721px;top:541px;width:94px;text-align:right;">$1,368</div><div class="t" style="left:818px;top:541px;width:56px;text-align:right;">77%</div><div class="t" style="left:877px;top:541px;width:76px;text-align:right;">10,377</div><div class="t" style="left:956px;top:541px;width:82px;text-align:right;">6,500</div><div class="t" style="left:10px;top:558px;">Ohio</div><div class="t" style="left:152px;top:558px;width:74px;text-align:right;">234,341</div><div class="t" style="left:229px;top:558px;width:83px;text-align:right;">206,220</div><div class="t" style="left:315px;top:558px;width:80px;text-align:right;">202,096</div><div class="t" style="left:398px;top:558px;width:82px;text-align:center;">84%</div><div class="t b" style="left:480px;top:558px;width:79px;text-align:right;">169,760</div><div class="t b" style="left:562px;top:558px;width:82px;text-align:right;">170,000</div><div class="t b" style="left:647px;top:558px;width:71px;text-align:right;">$244</div><div class="t b" style="left:721px;top:558px;width:94px;text-align:right;">$1,464</div><div class="t" style="left:818px;top:558px;width:56px;text-align:right;">89%</div><div class="t" style="left:877px;top:558px;width:76px;text-align:right;">151,087</div><div class="t" style="left:956px;top:558px;width:82px;text-align:right;">98,000</div><div class="t" style="left:10px;top:575px;">Oklahoma</div><div class="t" style="left:152px;top:575px;width:74px;text-align:right;">126,115</div><div class="t" style="left:229px;top:575px;width:83px;text-align:right;">110,981</div><div class="t" style="left:315px;top:575px;width:80px;text-align:right;">108,762</div><div class="t" style="left:398px;top:575px;width:82px;text-align:center;">79%</div><div class="t b" style="left:480px;top:575px;width:79px;text-align:right;">85,922</div><div class="t b" style="left:562px;top:575px;width:82px;text-align:right;">86,000</div><div class="t b" style="left:647px;top:575px;width:71px;text-align:right;">$206</div><div class="t b" style="left:721px;top:575px;width:94px;text-align:right;">$1,236</div><div class="t" style="left:818px;top:575px;width:56px;text-align:right;">90%</div><div class="t" style="left:877px;top:575px;width:76px;text-align:right;">77,329</div><div class="t" style="left:956px;top:575px;width:82px;text-align:right;">50,000</div><div class="t" style="left:10px;top:592px;">Pennsylvania</div><div class="t" style="left:152px;top:592px;width:74px;text-align:right;">472,697</div><div class="t" style="left:229px;top:592px;width:83px;text-align:right;">415,973</div><div class="t" style="left:315px;top:592px;width:80px;text-align:right;">407,654</div><div class="t" style="left:398px;top:592px;width:82px;text-align:center;">80%</div><div class="t b" style="left:480px;top:592px;width:79px;text-align:right;">326,123</div><div class="t b" style="left:562px;top:592px;width:82px;text-align:right;">326,000</div><div class="t b" style="left:647px;top:592px;width:71px;text-align:right;">$226</div><div class="t b" style="left:721px;top:592px;width:94px;text-align:right;">$1,356</div><div class="t" style="left:818px;top:592px;width:56px;text-align:right;">94%</div><div class="t" style="left:877px;top:592px;width:76px;text-align:right;">306,556</div><div class="t" style="left:956px;top:592px;width:82px;text-align:right;">199,000</div><div class="t" style="left:10px;top:609px;">South Carolina</div><div class="t" style="left:152px;top:609px;width:74px;text-align:right;">210,331</div><div class="t" style="left:229px;top:609px;width:83px;text-align:right;">185,091</div><div class="t" style="left:315px;top:609px;width:80px;text-align:right;">181,389</div><div class="t" style="left:398px;top:609px;width:82px;text-align:center;">88%</div><div class="t b" style="left:480px;top:609px;width:79px;text-align:right;">159,623</div><div class="t b" style="left:562px;top:609px;width:82px;text-align:right;">160,000</div><div class="t b" style="left:647px;top:609px;width:71px;text-align:right;">$278</div><div class="t b" style="left:721px;top:609px;width:94px;text-align:right;">$1,668</div><div class="t" style="left:818px;top:609px;width:56px;text-align:right;">93%</div><div class="t" style="left:877px;top:609px;width:76px;text-align:right;">148,449</div><div class="t" style="left:956px;top:609px;width:82px;text-align:right;">96,500</div><div class="t" style="left:10px;top:626px;">South Dakota</div><div class="t" style="left:152px;top:626px;width:74px;text-align:right;">21,393</div><div class="t" style="left:229px;top:626px;width:83px;text-align:right;">18,826</div><div class="t" style="left:315px;top:626px;width:80px;text-align:right;">18,449</div><div class="t" style="left:398px;top:626px;width:82px;text-align:center;">86%</div><div class="t b" style="left:480px;top:626px;width:79px;text-align:right;">15,866</div><div class="t b" style="left:562px;top:626px;width:82px;text-align:right;">16,000</div><div class="t b" style="left:647px;top:626px;width:71px;text-align:right;">$228</div><div class="t b" style="left:721px;top:626px;width:94px;text-align:right;">$1,368</div><div class="t" style="left:818px;top:626px;width:56px;text-align:right;">89%</div><div class="t" style="left:877px;top:626px;width:76px;text-align:right;">14,121</div><div class="t" style="left:956px;top:626px;width:82px;text-align:right;">9,000</div><div class="t" style="left:10px;top:643px;">Tennessee</div><div class="t" style="left:152px;top:643px;width:74px;text-align:right;">231,440</div><div class="t" style="left:229px;top:643px;width:83px;text-align:right;">203,667</div><div class="t" style="left:315px;top:643px;width:80px;text-align:right;">199,594</div><div class="t" style="left:398px;top:643px;width:82px;text-align:center;">82%</div><div class="t b" style="left:480px;top:643px;width:79px;text-align:right;">163,667</div><div class="t b" style="left:562px;top:643px;width:82px;text-align:right;">164,000</div><div class="t b" style="left:647px;top:643px;width:71px;text-align:right;">$213</div><div class="t b" style="left:721px;top:643px;width:94px;text-align:right;">$1,278</div><div class="t" style="left:818px;top:643px;width:56px;text-align:right;">94%</div><div class="t" style="left:877px;top:643px;width:76px;text-align:right;">153,847</div><div class="t" style="left:956px;top:643px;width:82px;text-align:right;">100,000</div><div class="t" style="left:10px;top:660px;">Texas</div><div class="t" style="left:152px;top:660px;width:74px;text-align:right;">1,205,174</div><div class="t" style="left:229px;top:660px;width:83px;text-align:right;">1,060,553</div><div class="t" style="left:315px;top:660px;width:80px;text-align:right;">1,039,342</div><div class="t" style="left:398px;top:660px;width:82px;text-align:center;">85%</div><div class="t b" style="left:480px;top:660px;width:79px;text-align:right;">883,441</div><div class="t b" style="left:562px;top:660px;width:82px;text-align:right;">883,000</div><div class="t b" style="left:647px;top:660px;width:71px;text-align:right;">$239</div><div class="t b" style="left:721px;top:660px;width:94px;text-align:right;">$1,434</div><div class="t" style="left:818px;top:660px;width:56px;text-align:right;">90%</div><div class="t" style="left:877px;top:660px;width:76px;text-align:right;">795,097</div><div class="t" style="left:956px;top:660px;width:82px;text-align:right;">517,000</div><div class="t" style="left:10px;top:677px;">Utah</div><div class="t" style="left:152px;top:677px;width:74px;text-align:right;">140,612</div><div class="t" style="left:229px;top:677px;width:83px;text-align:right;">123,739</div><div class="t" style="left:315px;top:677px;width:80px;text-align:right;">121,264</div><div class="t" style="left:398px;top:677px;width:82px;text-align:center;">88%</div><div class="t b" style="left:480px;top:677px;width:79px;text-align:right;">106,712</div><div class="t b" style="left:562px;top:677px;width:82px;text-align:right;">107,000</div><div class="t b" style="left:647px;top:677px;width:71px;text-align:right;">$159</div><div class="t b" style="left:721px;top:677px;width:94px;text-align:right;">$954</div><div class="t" style="left:818px;top:677px;width:56px;text-align:right;">78%</div><div class="t" style="left:877px;top:677px;width:76px;text-align:right;">83,235</div><div class="t" style="left:956px;top:677px;width:82px;text-align:right;">54,000</div><div class="t" style="left:10px;top:694px;">Virginia</div><div class="t" style="left:152px;top:694px;width:74px;text-align:right;">385,154</div><div class="t" style="left:229px;top:694px;width:83px;text-align:right;">338,936</div><div class="t" style="left:315px;top:694px;width:80px;text-align:right;">332,157</div><div class="t" style="left:398px;top:694px;width:82px;text-align:center;">83%</div><div class="t b" style="left:480px;top:694px;width:79px;text-align:right;">275,690</div><div class="t b" style="left:562px;top:694px;width:82px;text-align:right;">276,000</div><div class="t b" style="left:647px;top:694px;width:71px;text-align:right;">$259</div><div class="t b" style="left:721px;top:694px;width:94px;text-align:right;">$1,554</div><div class="t" style="left:818px;top:694px;width:56px;text-align:right;">89%</div><div class="t" style="left:877px;top:694px;width:76px;text-align:right;">245,364</div><div class="t" style="left:956px;top:694px;width:82px;text-align:right;">159,500</div><div class="t" style="left:10px;top:711px;">West Virginia</div><div class="t" style="left:152px;top:711px;width:74px;text-align:right;">33,421</div><div class="t" style="left:229px;top:711px;width:83px;text-align:right;">29,410</div><div class="t" style="left:315px;top:711px;width:80px;text-align:right;">28,822</div><div class="t" style="left:398px;top:711px;width:82px;text-align:center;">86%</div><div class="t b" style="left:480px;top:711px;width:79px;text-align:right;">24,787</div><div class="t b" style="left:562px;top:711px;width:82px;text-align:right;">25,000</div><div class="t b" style="left:647px;top:711px;width:71px;text-align:right;">$311</div><div class="t b" style="left:721px;top:711px;width:94px;text-align:right;">$1,866</div><div class="t" style="left:818px;top:711px;width:56px;text-align:right;">94%</div><div class="t" style="left:877px;top:711px;width:76px;text-align:right;">23,300</div><div class="t" style="left:956px;top:711px;width:82px;text-align:right;">15,000</div><div class="t" style="left:10px;top:728px;">Wisconsin</div><div class="t" style="left:152px;top:728px;width:74px;text-align:right;">207,349</div><div class="t" style="left:229px;top:728px;width:83px;text-align:right;">182,467</div><div class="t" style="left:315px;top:728px;width:80px;text-align:right;">178,818</div><div class="t" style="left:398px;top:728px;width:82px;text-align:center;">89%</div><div class="t b" style="left:480px;top:728px;width:79px;text-align:right;">159,148</div><div class="t b" style="left:562px;top:728px;width:82px;text-align:right;">159,000</div><div class="t b" style="left:647px;top:728px;width:71px;text-align:right;">$315</div><div class="t b" style="left:721px;top:728px;width:94px;text-align:right;">$1,890</div><div class="t" style="left:818px;top:728px;width:56px;text-align:right;">94%</div><div class="t" style="left:877px;top:728px;width:76px;text-align:right;">149,599</div><div class="t" style="left:956px;top:728px;width:82px;text-align:right;">97,000</div><div class="t" style="left:10px;top:745px;">Wyoming</div><div class="t" style="left:152px;top:745px;width:74px;text-align:right;">21,092</div><div class="t" style="left:229px;top:745px;width:83px;text-align:right;">18,561</div><div class="t" style="left:315px;top:745px;width:80px;text-align:right;">18,190</div><div class="t" style="left:398px;top:745px;width:82px;text-align:center;">91%</div><div class="t b" style="left:480px;top:745px;width:79px;text-align:right;">16,553</div><div class="t b" style="left:562px;top:745px;width:82px;text-align:right;">17,000</div><div class="t b" style="left:647px;top:745px;width:71px;text-align:right;">$420</div><div class="t b" style="left:721px;top:745px;width:94px;text-align:right;">$2,520</div><div class="t" style="left:818px;top:745px;width:56px;text-align:right;">87%</div><div class="t" style="left:877px;top:745px;width:76px;text-align:right;">14,401</div><div class="t" style="left:956px;top:745px;width:82px;text-align:right;">9,000</div><div class="t b" style="left:10px;top:763px;">Total Fed. Exch.</div><div class="t b" style="left:152px;top:763px;width:74px;text-align:right;">8,600,313</div><div class="t b" style="left:229px;top:763px;width:83px;text-align:right;">7,568,275</div><div class="t b" style="left:315px;top:763px;width:80px;text-align:right;">7,416,910</div><div class="t b" style="left:398px;top:763px;width:82px;text-align:center;">87%</div><div class="t b" style="left:480px;top:763px;width:79px;text-align:right;">6,433,281</div><div class="t b" style="left:562px;top:763px;width:82px;text-align:right;">6,433,000</div><div class="t b" style="left:647px;top:763px;width:71px;text-align:right;">$263</div><div class="t b" style="left:721px;top:763px;width:94px;text-align:right;">$1,578</div><div class="t b" style="left:818px;top:763px;width:56px;text-align:right;">92%</div><div class="t b" style="left:877px;top:763px;width:76px;text-align:right;">5,918,618</div><div class="t b" style="left:956px;top:763px;width:82px;text-align:right;">3,835,000</div><div class="t" style="left:10px;top:799px;">Nevada</div><div class="t" style="left:152px;top:799px;width:74px;text-align:right;">73,596</div><div class="t" style="left:229px;top:799px;width:83px;text-align:right;">64,764</div><div class="t" style="left:315px;top:799px;width:80px;text-align:right;">63,469</div><div class="t" style="left:398px;top:799px;width:82px;text-align:center;">89%</div><div class="t b" style="left:480px;top:799px;width:79px;text-align:right;">56,488</div><div class="t b" style="left:562px;top:799px;width:82px;text-align:right;">56,000</div><div class="t b" style="left:647px;top:799px;width:71px;text-align:right;">$242</div><div class="t b" style="left:721px;top:799px;width:94px;text-align:right;">$1,452</div><div class="t" style="left:818px;top:799px;width:56px;text-align:right;">87%</div><div class="t" style="left:877px;top:799px;width:76px;text-align:right;">49,144</div><div class="t" style="left:956px;top:799px;width:82px;text-align:right;">32,000</div><div class="t" style="left:10px;top:816px;">New Mexico</div><div class="t" style="left:152px;top:816px;width:74px;text-align:right;">52,358</div><div class="t" style="left:229px;top:816px;width:83px;text-align:right;">46,075</div><div class="t" style="left:315px;top:816px;width:80px;text-align:right;">45,154</div><div class="t" style="left:398px;top:816px;width:82px;text-align:center;">74%</div><div class="t b" style="left:480px;top:816px;width:79px;text-align:right;">33,414</div><div class="t b" style="left:562px;top:816px;width:82px;text-align:right;">33,000</div><div class="t b" style="left:647px;top:816px;width:71px;text-align:right;">$196</div><div class="t b" style="left:721px;top:816px;width:94px;text-align:right;">$1,176</div><div class="t" style="left:818px;top:816px;width:56px;text-align:right;">92%</div><div class="t" style="left:877px;top:816px;width:76px;text-align:right;">30,741</div><div class="t" style="left:956px;top:816px;width:82px;text-align:right;">20,000</div><div class="t" style="left:10px;top:833px;">Oregon</div><div class="t" style="left:152px;top:833px;width:74px;text-align:right;">112,024</div><div class="t" style="left:229px;top:833px;width:83px;text-align:right;">98,581</div><div class="t" style="left:315px;top:833px;width:80px;text-align:right;">96,609</div><div class="t" style="left:398px;top:833px;width:82px;text-align:center;">77%</div><div class="t b" style="left:480px;top:833px;width:79px;text-align:right;">74,389</div><div class="t b" style="left:562px;top:833px;width:82px;text-align:right;">74,000</div><div class="t b" style="left:647px;top:833px;width:71px;text-align:right;">$198</div><div class="t b" style="left:721px;top:833px;width:94px;text-align:right;">$1,188</div><div class="t" style="left:818px;top:833px;width:56px;text-align:right;">93%</div><div class="t" style="left:877px;top:833px;width:76px;text-align:right;">69,182</div><div class="t" style="left:956px;top:833px;width:82px;text-align:right;">45,000</div><div class="t b" style="left:10px;top:851px;">Total Healthcare.Gov</div><div class="t b" style="left:152px;top:851px;width:74px;text-align:right;">8,838,291</div><div class="t b" style="left:229px;top:851px;width:83px;text-align:right;">7,777,696</div><div class="t b" style="left:315px;top:851px;width:80px;text-align:right;">7,622,142</div><div class="t b" style="left:398px;top:851px;width:82px;text-align:center;">87%</div><div class="t b" style="left:480px;top:851px;width:79px;text-align:right;">6,631,264</div><div class="t b" style="left:562px;top:851px;width:82px;text-align:right;">6,631,000</div><div class="t b" style="left:647px;top:851px;width:71px;text-align:right;">$263</div><div class="t b" style="left:721px;top:851px;width:94px;text-align:right;">$1,578</div><div class="t b" style="left:818px;top:851px;width:56px;text-align:right;">92%</div><div class="t b" style="left:877px;top:851px;width:76px;text-align:right;">6,100,763</div><div class="t b" style="left:956px;top:851px;width:82px;text-align:right;">3,932,000</div><div class="t" style="left:0px;top:886px;width:149px;text-align:right;">1</div><div class="t" style="left:155px;top:886px;">Source: http://aspe.hhs.gov/health/reports/2015/MarketPlaceEnrollment/Mar2015/ib_2015mar_enrollment.pdf</div><div class="t" style="left:0px;top:903px;width:149px;text-align:right;">2</div><div class="t" style="left:155px;top:903px;">Assumes 88% of those who select QHPs via ACA exchanges in 2015 pay at least their 1st monthly premium.</div><div class="t" style="left:155px;top:920px;">Source: http://acasignups.net</div><div class="t" style="left:0px;top:937px;width:149px;text-align:right;">3</div><div class="t" style="left:155px;top:937px;">Assumes appx. 2% net monthly effectuated enrollment attrition, mitigated by additional 147,000 QHP selections via tax filing season SEP</div><div class="t" style="left:155px;top:954px;">Source: http://acasignups.net/attrition-rate</div><div class="t" style="left:0px;top:971px;width:149px;text-align:right;">4</div><div class="t" style="left:155px;top:971px;">Source: http://aspe.hhs.gov/health/reports/2015/MarketPlaceEnrollment/Mar2015/ib_2015mar_enrollment.pdf</div><div class="t" style="left:0px;top:988px;width:149px;text-align:right;">5</div><div class="t" style="left:155px;top:988px;">Source: http://aspe.hhs.gov/health/reports/2015/MarketPlaceEnrollment/Mar2015/ib_2015mar_enrollment.pdf</div><div class="t" style="left:0px;top:1005px;width:149px;text-align:right;">6</div><div class="t" style="left:155px;top:1005px;">Assumes SCOTUS orders IRS to cut off APTC payments starting July 1st, 2015 (7/1/15 - 12/31/15)</div><div class="t" style="left:155px;top:1022px;">Source: http://theincidentaleconomist.com/wordpress/on-timing-and-king/</div><div class="t" style="left:0px;top:1039px;width:149px;text-align:right;">7</div><div class="t" style="left:155px;top:1039px;">Source: http://aspe.hhs.gov/health/reports/2015/MarketPlaceEnrollment/Mar2015/ib_2015mar_enrollment.pdf</div><div class="t" style="left:0px;top:1056px;width:149px;text-align:right;">8</div><div class="t" style="left:155px;top:1056px;">Assumes appx. 65% of those 18 or older in each state are registered voters.</div><div class="t" style="left:155px;top:1073px;">Source: http://www.huffingtonpost.com/page-gardner/the-real-crisis-35--of-am_b_1615318.html</div></div>
</body></html>
